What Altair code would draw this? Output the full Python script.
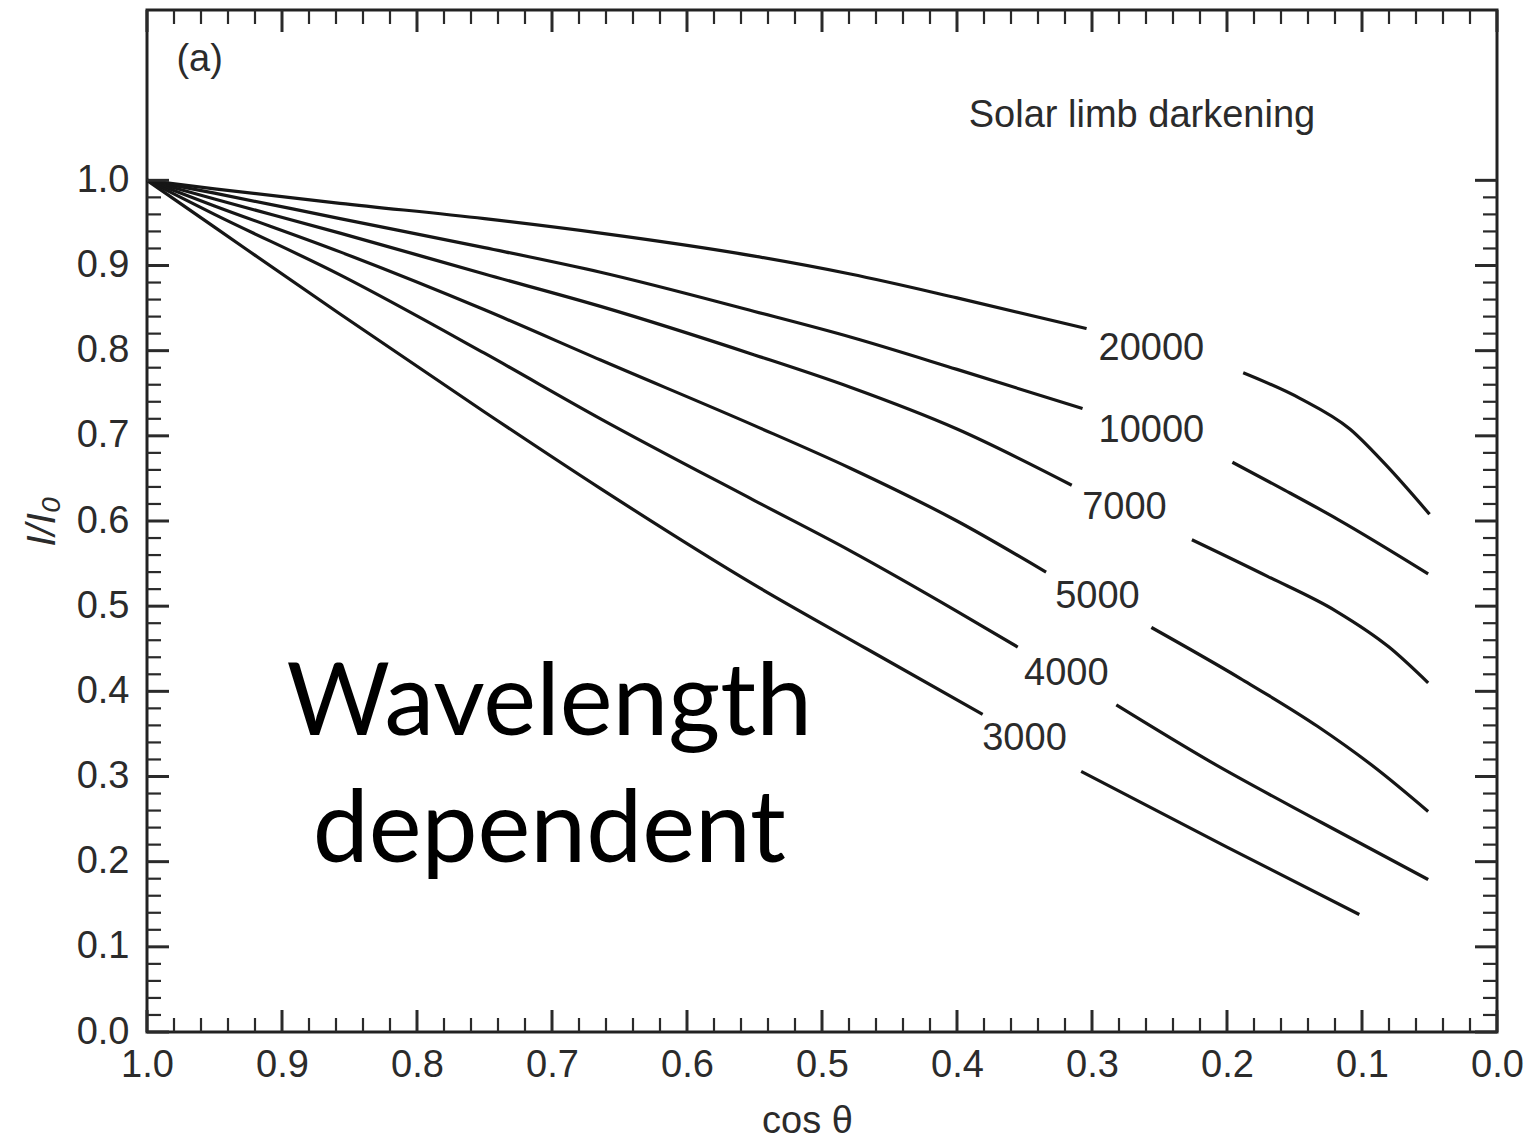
import altair as alt
import pandas as pd

# ---- data ----
curve_names = ["20000", "10000", "7000", "5000", "4000", "3000"]

# each curve split in two pieces around its label
mu_20000_a = [1.0, 0.95, 0.857, 0.75, 0.664, 0.55, 0.479, 0.40, 0.304]
I_20000_a = [1.0, 0.99, 0.973, 0.955, 0.938, 0.911, 0.890, 0.862, 0.826]
mu_20000_b = [0.188, 0.146, 0.109, 0.083, 0.05]
I_20000_b = [0.774, 0.744, 0.708, 0.667, 0.608]

mu_10000_a = [1.0, 0.95, 0.857, 0.75, 0.664, 0.55, 0.479, 0.40, 0.307]
I_10000_a = [1.0, 0.985, 0.955, 0.921, 0.892, 0.846, 0.816, 0.778, 0.732]
mu_10000_b = [0.196, 0.157, 0.118, 0.051]
I_10000_b = [0.669, 0.636, 0.602, 0.538]

mu_7000_a = [1.0, 0.95, 0.857, 0.75, 0.664, 0.55, 0.479, 0.40, 0.315]
I_7000_a = [1.0, 0.978, 0.938, 0.890, 0.852, 0.795, 0.757, 0.708, 0.642]
mu_7000_b = [0.226, 0.17, 0.119, 0.08, 0.051]
I_7000_b = [0.578, 0.535, 0.494, 0.452, 0.410]

mu_5000_a = [1.0, 0.95, 0.857, 0.75, 0.664, 0.55, 0.479, 0.40, 0.334]
I_5000_a = [1.0, 0.97, 0.916, 0.848, 0.789, 0.712, 0.662, 0.600, 0.540]
mu_5000_b = [0.256, 0.19, 0.133, 0.09, 0.051]
I_5000_b = [0.475, 0.415, 0.359, 0.31, 0.259]

mu_4000_a = [1.0, 0.95, 0.857, 0.75, 0.664, 0.55, 0.479, 0.40, 0.355]
I_4000_a = [1.0, 0.96, 0.889, 0.797, 0.720, 0.624, 0.565, 0.494, 0.452]
mu_4000_b = [0.282, 0.213, 0.13, 0.051]
I_4000_b = [0.384, 0.318, 0.246, 0.179]

mu_3000_a = [1.0, 0.95, 0.857, 0.75, 0.664, 0.55, 0.467, 0.381]
I_3000_a = [1.0, 0.945, 0.843, 0.728, 0.638, 0.525, 0.450, 0.373]
mu_3000_b = [0.308, 0.20, 0.102]
I_3000_b = [0.306, 0.217, 0.138]

label_mu = [0.256, 0.256, 0.276, 0.296, 0.319, 0.350]
label_I = [0.802, 0.706, 0.615, 0.511, 0.420, 0.344]

x_tick_labels = [round(v * 0.1, 1) for v in range(0, 11)]
y_tick_labels = [round(v * 0.1, 1) for v in range(0, 11)]

# ---- build tables ----
pieces = [
    ("20000", "a", mu_20000_a, I_20000_a), ("20000", "b", mu_20000_b, I_20000_b),
    ("10000", "a", mu_10000_a, I_10000_a), ("10000", "b", mu_10000_b, I_10000_b),
    ("7000", "a", mu_7000_a, I_7000_a), ("7000", "b", mu_7000_b, I_7000_b),
    ("5000", "a", mu_5000_a, I_5000_a), ("5000", "b", mu_5000_b, I_5000_b),
    ("4000", "a", mu_4000_a, I_4000_a), ("4000", "b", mu_4000_b, I_4000_b),
    ("3000", "a", mu_3000_a, I_3000_a), ("3000", "b", mu_3000_b, I_3000_b),
]
rows = []
for name, part, mus, Is in pieces:
    for m, i in zip(mus, Is):
        rows.append({"curve": name, "seg": name + part, "mu": m, "I": i})
curves_df = pd.DataFrame(rows)
labels_df = pd.DataFrame({"curve": curve_names, "mu": label_mu, "I": label_I})

W, H = 1350, 1022
xscale = alt.Scale(domain=[0, 1], reverse=True, nice=False, zero=False)
yscale = alt.Scale(domain=[0, 1.2], nice=False, zero=False)
FONT = "Liberation Sans"
TXT = "#2b2b2b"

x_axis = alt.Axis(values=x_tick_labels, format=".1f", ticks=False, domain=False, grid=False,
                  labelFontSize=38, labelPadding=14, labelFlush=False, labelOverlap=False,
                  labelColor=TXT, title="cos θ", titleFontSize=38, titleFontWeight="normal",
                  titleColor=TXT, titlePadding=18, titleX=660)
y_axis = alt.Axis(values=y_tick_labels, format=".1f", ticks=False, domain=False, grid=False,
                  labelFontSize=38, labelPadding=18, labelFlush=False, labelOverlap=False,
                  labelColor=TXT, title="I/I₀", titleFontSize=40, titleFontWeight="normal",
                  titleFontStyle="italic", titleColor=TXT, titlePadding=14)


def X(field):
    return alt.X(field, scale=xscale, axis=x_axis, title="cos θ")


def Y(field):
    return alt.Y(field, scale=yscale, axis=y_axis, title="I/I₀")


lines = alt.Chart(curves_df).mark_line(color="#161616", strokeWidth=3.2, interpolate="monotone").encode(
    x=X("mu:Q"),
    y=Y("I:Q"),
    detail="seg:N",
    order=alt.Order("mu:Q", sort="descending"),
)

curve_labels = alt.Chart(labels_df).mark_text(font=FONT, fontSize=38, color=TXT,
                                               align="center", baseline="middle").encode(
    x=X("mu:Q"), y=Y("I:Q"), text="curve:N",
)

# inward ticks on all four sides
x_minor = [round(v * 0.02, 2) for v in range(0, 51)]
y_minor = [round(v * 0.02, 2) for v in range(0, 51)]
xt_df = pd.DataFrame({"v": x_minor, "major": [abs(v * 10 - round(v * 10)) < 1e-6 for v in x_minor]})
yt_df = pd.DataFrame({"v": y_minor, "major": [abs(v * 10 - round(v * 10)) < 1e-6 for v in y_minor]})

tick_layers = []
TC = "#2a2a2a"
for major, L, sw in [(True, 22, 3), (False, 14, 2.2)]:
    xd = alt.Chart(xt_df).transform_filter(alt.datum.major == major)
    yd = alt.Chart(yt_df).transform_filter(alt.datum.major == major)
    tick_layers.append(xd.mark_rule(color=TC, strokeWidth=sw).encode(
        x=X("v:Q"), y=alt.value(H), y2=alt.value(H - L)))
    tick_layers.append(xd.mark_rule(color=TC, strokeWidth=sw).encode(
        x=X("v:Q"), y=alt.value(0), y2=alt.value(L)))
    tick_layers.append(yd.mark_rule(color=TC, strokeWidth=sw).encode(
        y=Y("v:Q"), x=alt.value(0), x2=alt.value(L)))
    tick_layers.append(yd.mark_rule(color=TC, strokeWidth=sw).encode(
        y=Y("v:Q"), x=alt.value(W), x2=alt.value(W - L)))

# annotations
ann_df = pd.DataFrame({"t": ["(a)", "Solar limb darkening"], "mu": [0.961, 0.263], "I": [1.141, 1.075]})
ann = alt.Chart(ann_df).mark_text(font=FONT, fontSize=38, color=TXT, align="center",
                                  baseline="middle").encode(
    x=X("mu:Q"), y=Y("I:Q"), text="t:N",
)

big_df = pd.DataFrame({"t": ["Wavelength", "dependent"], "mu": [0.702, 0.702], "I": [0.349, 0.200]})
big = alt.Chart(big_df).mark_text(font="Lato", fontSize=100, color="#000000", align="center",
                                  baseline="alphabetic").encode(
    x=X("mu:Q"), y=Y("I:Q"), text="t:N",
)

chart = alt.layer(lines, *tick_layers, curve_labels, ann, big).properties(
    width=W, height=H,
    autosize=alt.AutoSizeParams(type="none"),
    padding={"left": 147, "top": 10, "right": 32, "bottom": 109},
    background="white",
).configure(font=FONT).configure_view(stroke="#222222", strokeWidth=3)

chart.save("out.html", embed_options={"renderer": "svg", "actions": False})
